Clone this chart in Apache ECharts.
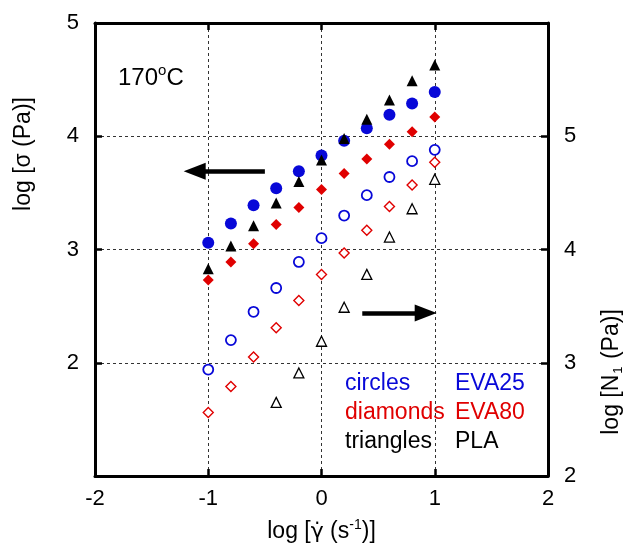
<!DOCTYPE html>
<html>
<head>
<meta charset="utf-8">
<script src="https://cdn.jsdelivr.net/npm/echarts@6/dist/echarts.min.js"></script>
<style>
  html, body { margin: 0; padding: 0; background: #fff; }
  #main { width: 628px; height: 548px; }
</style>
</head>
<body>
<div id="main"></div>
<script>
// log shear rate
var rate = [-1, -0.8, -0.6, -0.4, -0.2, 0, 0.2, 0.4, 0.6, 0.8, 1];
var ratePLA_N1 = [-0.4, -0.2, 0, 0.2, 0.4, 0.6, 0.8, 1];

// log shear stress (left axis)
var sigmaEVA25 = [3.06, 3.23, 3.39, 3.54, 3.69, 3.83, 3.96, 4.07, 4.19, 4.29, 4.39];
var sigmaEVA80 = [2.73, 2.89, 3.05, 3.22, 3.37, 3.53, 3.67, 3.80, 3.93, 4.04, 4.17];
var sigmaPLA   = [2.83, 3.03, 3.21, 3.41, 3.60, 3.79, 3.98, 4.15, 4.32, 4.49, 4.63];

// log first normal stress difference (right axis)
var n1EVA25 = [2.94, 3.20, 3.45, 3.66, 3.89, 4.10, 4.30, 4.48, 4.64, 4.78, 4.88];
var n1EVA80 = [2.56, 2.79, 3.05, 3.31, 3.55, 3.78, 3.97, 4.17, 4.38, 4.57, 4.77];
var n1PLA   = [2.65, 2.91, 3.19, 3.49, 3.78, 4.11, 4.36, 4.62];

var blue = '#0808d8';
var red = '#e00000';
var font = 'Liberation Sans, Arial, sans-serif';

function pairs(xs, ys) {
    return xs.map(function (x, i) { return [x, ys[i]]; });
}

var myChart = echarts.init(document.getElementById('main'));

var dashed = { show: true, lineStyle: { color: '#333', width: 1, type: [3, 3] } };
var spine = { show: true, onZero: false, lineStyle: { color: '#000', width: 3 } };
var tickIn = { show: true, inside: true, length: 7, lineStyle: { color: '#000', width: 2.5 } };
var lbl = { color: '#000', fontSize: 22, fontFamily: font };

var arrowLine = {
    silent: true,
    symbol: ['none', 'triangle'],
    symbolSize: [17, 22],
    label: { show: false },
    lineStyle: { color: '#000', width: 4.5, type: 'solid', opacity: 1 },
    emphasis: { disabled: true },
    data: [
        [{ coord: [-0.5, 3.69] }, { coord: [-1.12, 3.69] }],
        [{ coord: [0.36, 2.44] }, { coord: [0.92, 2.44] }]
    ]
};

option = {
    animation: false,
    backgroundColor: '#fff',
    grid: { left: 95, right: 80, top: 23, bottom: 72, containLabel: false, outerBoundsMode: 'none' },
    xAxis: [
        {
            type: 'value', min: -2, max: 2, interval: 1, position: 'bottom',
            axisLine: spine, axisTick: tickIn, splitLine: dashed,
            axisLabel: Object.assign({ margin: 12 }, lbl),
            name: '{a|log [}{g|γ̇}{a| (s}{s|-1}{a|)]}',
            nameLocation: 'middle', nameGap: 42,
            nameTextStyle: {
                rich: {
                    a: { fontSize: 23, fontFamily: font, color: '#000', lineHeight: 28 },
                    g: { fontSize: 22, fontFamily: 'DejaVu Sans', color: '#000', lineHeight: 28 },
                    s: { fontSize: 14, fontFamily: font, color: '#000', verticalAlign: 'top', lineHeight: 13 }
                }
            }
        },
        {
            type: 'value', min: -2, max: 2, interval: 1, position: 'top',
            axisLine: spine, axisTick: tickIn, splitLine: { show: false },
            axisLabel: { show: false }
        }
    ],
    yAxis: [
        {
            type: 'value', min: 1, max: 5, interval: 1, position: 'left',
            axisLine: spine, axisTick: tickIn, splitLine: dashed,
            axisLabel: Object.assign({
                margin: 16,
                formatter: function (v) { return v === 1 ? '' : String(v); }
            }, lbl)
        },
        {
            type: 'value', min: 2, max: 6, interval: 1, position: 'right',
            axisLine: spine, axisTick: tickIn, splitLine: { show: false },
            axisLabel: Object.assign({
                margin: 16,
                formatter: function (v) { return v === 6 ? '' : String(v); }
            }, lbl)
        }
    ],
    graphic: [
        {
            type: 'text', x: 24, y: 154, rotation: Math.PI / 2,
            style: {
                text: 'log [σ (Pa)]', font: '23px ' + font, fill: '#000',
                align: 'center', verticalAlign: 'middle'
            }
        },
        {
            type: 'text', x: 612, y: 372, rotation: Math.PI / 2,
            style: {
                text: '{a|log [N}{b|1}{a| (Pa)]}', fill: '#000',
                align: 'center', verticalAlign: 'middle',
                rich: {
                    a: { fontSize: 23, fontFamily: font, fill: '#000', lineHeight: 26 },
                    b: { fontSize: 13, fontFamily: font, fill: '#000', verticalAlign: 'bottom', lineHeight: 13, padding: [0, 1, 0, 1] }
                }
            }
        },
        {
            type: 'text', x: 118, y: 78,
            style: {
                text: '{a|170}{s|o}{a|C}', fill: '#000',
                align: 'left', verticalAlign: 'middle',
                rich: {
                    a: { fontSize: 24, fontFamily: font, fill: '#000', lineHeight: 30 },
                    s: { fontSize: 15, fontFamily: font, fill: '#000', verticalAlign: 'top', lineHeight: 11 }
                }
            }
        },
        { type: 'text', x: 345, y: 384, style: { text: 'circles', font: '23px ' + font, fill: blue, verticalAlign: 'middle' } },
        { type: 'text', x: 455, y: 384, style: { text: 'EVA25', font: '23px ' + font, fill: blue, verticalAlign: 'middle' } },
        { type: 'text', x: 345, y: 413, style: { text: 'diamonds', font: '23px ' + font, fill: red, verticalAlign: 'middle' } },
        { type: 'text', x: 455, y: 413, style: { text: 'EVA80', font: '23px ' + font, fill: red, verticalAlign: 'middle' } },
        { type: 'text', x: 345, y: 442, style: { text: 'triangles', font: '23px ' + font, fill: '#000', verticalAlign: 'middle' } },
        { type: 'text', x: 455, y: 442, style: { text: 'PLA', font: '23px ' + font, fill: '#000', verticalAlign: 'middle' } }
    ],
    series: [
        {
            name: 'EVA25 sigma', type: 'scatter', yAxisIndex: 0,
            symbol: 'circle', symbolSize: 12,
            itemStyle: { color: blue, opacity: 1 },
            data: pairs(rate, sigmaEVA25)
        },
        {
            name: 'EVA80 sigma', type: 'scatter', yAxisIndex: 0,
            symbol: 'diamond', symbolSize: 11,
            itemStyle: { color: red, opacity: 1 },
            data: pairs(rate, sigmaEVA80)
        },
        {
            name: 'PLA sigma', type: 'scatter', yAxisIndex: 0,
            symbol: 'triangle', symbolSize: 11,
            itemStyle: { color: '#000', opacity: 1 },
            data: pairs(rate, sigmaPLA),
            markLine: arrowLine
        },
        {
            name: 'EVA25 N1', type: 'scatter', yAxisIndex: 1,
            symbol: 'circle', symbolSize: 10,
            itemStyle: { color: '#fff', borderColor: blue, borderWidth: 1.8, opacity: 1 },
            data: pairs(rate, n1EVA25)
        },
        {
            name: 'EVA80 N1', type: 'scatter', yAxisIndex: 1,
            symbol: 'diamond', symbolSize: 10,
            itemStyle: { color: '#fff', borderColor: red, borderWidth: 1.4, opacity: 1 },
            data: pairs(rate, n1EVA80)
        },
        {
            name: 'PLA N1', type: 'scatter', yAxisIndex: 1,
            symbol: 'triangle', symbolSize: 10,
            itemStyle: { color: '#fff', borderColor: '#000', borderWidth: 1.3, opacity: 1 },
            data: pairs(ratePLA_N1, n1PLA)
        }
    ]
};

myChart.setOption(option);
</script>
</body>
</html>
